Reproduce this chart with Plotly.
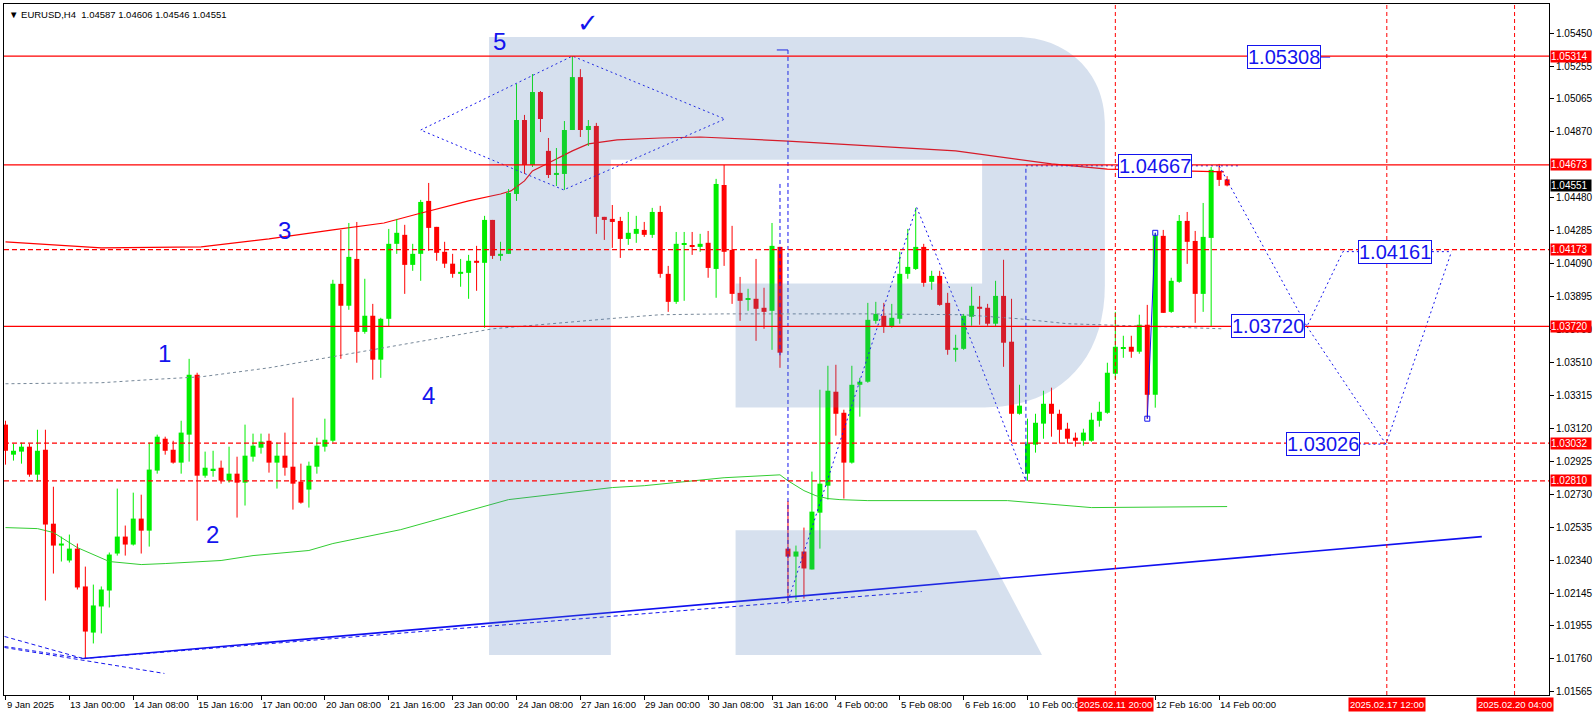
import plotly.graph_objects as go

# ---------------- data ----------------
opens = [1.03141,1.02964,1.02982,1.03011,1.02846,1.02993,1.02557,1.02428,1.02340,1.02410,
         1.02187,1.01915,1.02069,1.02163,1.02381,1.02481,1.02434,1.02587,1.02516,1.02870,
         1.03058,1.02993,1.02917,1.03082,1.03435,1.02840,1.02870,1.02887,1.02811,1.02852,
         1.02799,1.02952,1.03005,1.03046,1.02917,1.02958,1.02893,1.02805,1.02758,1.02893,
         1.03011,1.03046,1.03971,1.03842,1.04118,1.03688,1.03783,1.03524,1.03765,1.04207,
         1.04260,1.04083,1.04148,1.04460,1.04307,1.04160,1.04090,1.04030,1.04036,1.04107,
         1.04095,1.04348,1.04136,1.04148,1.04501,1.04937,1.04672,1.05102,1.04755,1.04613,
         1.04619,1.04878,1.05190,1.04878,1.04902,1.04366,1.04354,1.04342,1.04236,1.04266,
         1.04289,1.04260,1.04395,1.04030,1.03865,1.04201,1.04195,1.04189,1.04213,1.04059,
         1.04554,1.04171,1.03918,1.03877,1.03883,1.03830,1.03812,1.04189,1.02410,1.02363,
         1.02393,1.02287,1.02622,1.02781,1.03335,1.03211,1.02917,1.03376,1.03394,1.03753,
         1.03783,1.03718,1.03765,1.04030,1.04059,1.04189,1.03983,1.04018,1.03859,1.03582,
         1.03588,1.03777,1.03836,1.03830,1.03736,1.03900,1.03630,1.03205,1.02852,1.03023,
         1.03147,1.03264,1.03205,1.03117,1.03064,1.03046,1.03046,1.03164,1.03211,1.03441,
         1.03588,1.03600,1.03571,1.03730,1.03317,1.04254,1.03806,1.03983,1.04342,1.04224,
         1.03912,1.04242,1.04637,1.04587]
highs = [1.03164,1.03029,1.03035,1.03029,1.03111,1.03111,1.02775,1.02481,1.02493,1.02440,
         1.02304,1.02198,1.02187,1.02387,1.02764,1.02546,1.02740,1.02728,1.03035,1.03082,
         1.03070,1.03046,1.03164,1.03529,1.03447,1.02982,1.02987,1.02929,1.03011,1.02952,
         1.03141,1.03088,1.03088,1.03088,1.03035,1.03094,1.03300,1.02911,1.02923,1.03064,
         1.03176,1.03995,1.04289,1.04330,1.04336,1.04001,1.03853,1.03771,1.04295,1.04354,
         1.04319,1.04207,1.04466,1.04566,1.04307,1.04219,1.04148,1.04118,1.04142,1.04195,
         1.04372,1.04348,1.04219,1.04530,1.05149,1.04967,1.05208,1.05108,1.04831,1.04772,
         1.04931,1.05314,1.05237,1.04937,1.04920,1.04366,1.04436,1.04366,1.04395,1.04372,
         1.04336,1.04419,1.04431,1.04077,1.04277,1.04277,1.04277,1.04266,1.04283,1.04590,
         1.04672,1.04313,1.04012,1.03942,1.04118,1.03948,1.04330,1.04189,1.02690,1.02428,
         1.02534,1.02864,1.03347,1.03488,1.03494,1.03229,1.03488,1.03417,1.03859,1.03865,
         1.03859,1.03853,1.04160,1.04295,1.04419,1.04207,1.04048,1.04048,1.03918,1.03671,
         1.03794,1.03954,1.03900,1.03853,1.03989,1.04113,1.03883,1.03376,1.03176,1.03205,
         1.03341,1.03359,1.03229,1.03152,1.03094,1.03117,1.03211,1.03276,1.03506,1.03806,
         1.03665,1.03665,1.03789,1.03847,1.04272,1.04289,1.04007,1.04377,1.04395,1.04283,
         1.04448,1.04660,1.04678,1.04606]
lows = [1.02905,1.02929,1.02911,1.02834,1.02805,1.02104,1.02263,1.02334,1.02328,1.02169,
        1.01762,1.01851,1.01910,1.02063,1.02369,1.02369,1.02428,1.02381,1.02422,1.02852,
        1.02964,1.02911,1.02852,1.02923,1.02575,1.02828,1.02834,1.02793,1.02799,1.02593,
        1.02664,1.02923,1.02970,1.02858,1.02764,1.02840,1.02640,1.02675,1.02652,1.02852,
        1.02982,1.03035,1.03529,1.03818,1.03506,1.03677,1.03406,1.03417,1.03718,1.04148,
        1.03912,1.04048,1.03989,1.04166,1.04107,1.04065,1.04007,1.03954,1.03883,1.03930,
        1.03712,1.04118,1.04107,1.04148,1.04460,1.04619,1.04660,1.04866,1.04595,1.04548,
        1.04525,1.04878,1.04837,1.04784,1.04266,1.04230,1.04183,1.04124,1.04201,1.04213,
        1.04248,1.04242,1.04007,1.03806,1.03853,1.03871,1.04142,1.04160,1.04007,1.03889,
        1.04077,1.03853,1.03753,1.03812,1.03635,1.03706,1.03582,1.03476,1.02100,1.02110,
        1.02116,1.02287,1.02410,1.02699,1.03076,1.02705,1.02911,1.03188,1.03388,1.03736,
        1.03682,1.03712,1.03736,1.04001,1.04053,1.03954,1.03936,1.03842,1.03553,1.03512,
        1.03582,1.03724,1.03730,1.03724,1.03718,1.03482,1.03035,1.03200,1.02810,1.02976,
        1.03058,1.03070,1.03029,1.03029,1.03011,1.03017,1.03040,1.03129,1.03205,1.03412,
        1.03535,1.03535,1.03559,1.03176,1.03241,1.03800,1.03800,1.03977,1.04089,1.03741,
        1.03806,1.03718,1.04548,1.04546]
closes = [1.02987,1.02987,1.03011,1.02846,1.02987,1.02552,1.02428,1.02440,1.02410,1.02181,
          1.01921,1.02075,1.02169,1.02375,1.02481,1.02434,1.02587,1.02516,1.02876,1.03070,
          1.02987,1.02917,1.03094,1.03435,1.02840,1.02887,1.02881,1.02811,1.02852,1.02799,
          1.02958,1.03017,1.03041,1.02917,1.02958,1.02887,1.02793,1.02681,1.02899,1.03017,
          1.03052,1.03971,1.03842,1.04130,1.03688,1.03783,1.03524,1.03765,1.04207,1.04272,
          1.04083,1.04148,1.04454,1.04301,1.04154,1.04090,1.04030,1.04042,1.04107,1.04095,
          1.04348,1.04136,1.04148,1.04507,1.04937,1.04672,1.05102,1.04943,1.04613,1.04625,
          1.04878,1.05190,1.04878,1.04902,1.04366,1.04348,1.04336,1.04236,1.04272,1.04295,
          1.04260,1.04395,1.04030,1.03865,1.04207,1.04207,1.04189,1.04207,1.04065,1.04560,
          1.04160,1.03912,1.03871,1.03883,1.03824,1.03806,1.04195,1.03565,1.02363,1.02393,
          1.02293,1.02628,1.02793,1.03341,1.03205,1.02917,1.03376,1.03394,1.03759,1.03794,
          1.03718,1.03771,1.04030,1.04071,1.04189,1.03977,1.04018,1.03847,1.03582,1.03594,
          1.03783,1.03842,1.03824,1.03736,1.03900,1.03624,1.03205,1.03253,1.03029,1.03152,
          1.03264,1.03205,1.03111,1.03058,1.03046,1.03094,1.03170,1.03217,1.03447,1.03600,
          1.03594,1.03571,1.03730,1.03317,1.04254,1.03800,1.03989,1.04342,1.04219,1.03912,
          1.04248,1.04643,1.04584,1.04551]

# moving averages (bar index, price)
ma_red_x = [0, 12, 24.5, 33, 41, 47.4, 51.6, 58, 62, 63.3, 65, 66, 68, 71, 73, 76.6, 82, 87, 98, 108, 119, 131, 138, 152.6]
ma_red_y = [1.04218, 1.04183, 1.04189, 1.04236, 1.04289, 1.04330, 1.04383, 1.04460, 1.04501, 1.04519, 1.04578,
            1.04637, 1.04684, 1.04755, 1.04796, 1.04820, 1.04831, 1.04837, 1.04813, 1.04784, 1.04755, 1.04678,
            1.04648, 1.04631]
ma_gray_x = [0, 12, 18, 24.5, 33, 41, 52, 61, 77, 82, 90, 108, 120, 127, 133, 140, 151, 152.5]
ma_gray_y = [1.03382, 1.03388, 1.03406, 1.03423, 1.03476, 1.03541, 1.03629, 1.03706, 1.03771, 1.03789,
             1.03794, 1.03794, 1.03789, 1.03765, 1.03736, 1.03724, 1.03706, 1.03706]
ma_green_x = [0, 4, 6, 9, 13, 17, 20, 27, 31, 35, 38, 41, 49.5, 63, 76, 80, 90, 97, 98, 100, 101.5, 103,
              104.5, 108, 125.5, 136, 153]
ma_green_y = [1.02534, 1.02528, 1.02505, 1.02416, 1.02334, 1.02316, 1.02322, 1.02340, 1.02369, 1.02387,
              1.02399, 1.02440, 1.02522, 1.02699, 1.02770, 1.02781, 1.02828, 1.02845, 1.02810, 1.02752,
              1.02722, 1.02705, 1.02699, 1.02693, 1.02693, 1.02652, 1.02658]

# axis labels
x_label_bars = [0, 8, 16, 24, 32, 40, 48, 56, 64, 72, 80, 88, 96, 104, 112, 120, 128, 144, 152]
x_label_text = ["9 Jan 2025", "13 Jan 00:00", "14 Jan 08:00", "15 Jan 16:00", "17 Jan 00:00",
                "20 Jan 08:00", "21 Jan 16:00", "23 Jan 00:00", "24 Jan 08:00", "27 Jan 16:00",
                "29 Jan 00:00", "30 Jan 08:00", "31 Jan 16:00", "4 Feb 00:00", "5 Feb 08:00",
                "6 Feb 16:00", "10 Feb 00:00", "12 Feb 16:00", "14 Feb 00:00"]
y_ticks = [1.05450, 1.05255, 1.05065, 1.04870, 1.04480, 1.04285, 1.04090, 1.03895, 1.03700, 1.03510,
           1.03315, 1.03120, 1.02925, 1.02730, 1.02535, 1.02340, 1.02145, 1.01955, 1.01760, 1.01565]

# levels
solid_levels = [1.05314, 1.04673, 1.03720]
dashed_levels = [1.04173, 1.03032, 1.02810]
current_price = 1.04551
date_line_bars = [139, 173, 189]
date_line_text = ["2025.02.11 20:00", "2025.02.17 12:00", "2025.02.20 04:00"]

# forecast / analysis objects
target_labels = ["1.05308", "1.04667", "1.04161", "1.03720", "1.03026"]
target_values = [1.05308, 1.04667, 1.04161, 1.03720, 1.03026]
target_bars = [160.06, 144.0, 174.06, 158.06, 165.06]
wave_text = ["1", "2", "3", "4", "5"]
wave_bars = [19.9, 25.9, 35.0, 53.0, 61.9]
wave_prices = [1.03559, 1.02493, 1.04283, 1.03311, 1.05397]
forecast_x = [152, 163, 167.5, 181.1]
forecast_y = [1.04667, 1.03720, 1.04161, 1.04161]
forecast2_x = [163, 172.9, 181.1]
forecast2_y = [1.03720, 1.03026, 1.04161]
diamond_x = [52, 71, 90.1, 69.9, 52]
diamond_y = [1.04878, 1.05314, 1.04943, 1.04525, 1.04878]
zigzag_x = [98, 114.1, 121.1, 127.8]
zigzag_y = [1.02100, 1.04424, 1.03618, 1.02810]
trend_x = [9.75, 184.9]
trend_y = [1.01762, 1.02481]

GREEN = "#00ee00"
RED = "#ff0000"
BLUE = "#1414ee"
FONT = "Liberation Sans, Arial, sans-serif"

n = len(opens)
idx = list(range(n))
colors = [GREEN if c >= o else RED for o, c in zip(opens, closes)]
bases = [min(o, c) for o, c in zip(opens, closes)]
heights = [max(abs(c - o), 0.00006) for o, c in zip(opens, closes)]

fig = go.Figure()


def add_line(xs, ys, color, width=1, dash=None, mode="lines", marker=None):
    fig.add_trace(go.Scatter(x=xs, y=ys, mode=mode, hoverinfo="skip",
                             line=dict(color=color, width=width, dash=dash),
                             marker=marker or {}))


# moving averages
add_line(ma_green_x, ma_green_y, "#32cd32", 1)
add_line(ma_gray_x, ma_gray_y, "#778899", 1, "3px,3px")
add_line(ma_red_x, ma_red_y, "#ff0000", 1.2)

# wicks
for col in (GREEN, RED):
    wx, wy = [], []
    for i in idx:
        if colors[i] == col:
            wx += [i, i, None]
            wy += [lows[i], highs[i], None]
    add_line(wx, wy, col, 1)

# bodies
fig.add_trace(go.Bar(x=idx, y=heights, base=bases, width=0.625, marker_color=colors,
                     marker_line_width=0, hoverinfo="skip"))

# blue analysis lines
add_line(trend_x, trend_y, "#1010f0", 1.6)
add_line([trend_x[0], 114.75], [trend_y[0], 1.02157], BLUE, 1, "4px,3px")
add_line([-0.125, 9.75], [1.01892, 1.01762], BLUE, 1, "4px,3px")
add_line([-0.125, 9.75], [1.01833, 1.01762], BLUE, 1, "4px,3px")
add_line([-0.125, 19.9], [1.01827, 1.01674], BLUE, 1, "4px,3px")
add_line(diamond_x, diamond_y, BLUE, 1, "2px,3px")
add_line([97, 97], [1.04560, 1.03550], BLUE, 1, "4px,3px")
add_line([98, 98], [1.05350, 1.02086], BLUE, 1, "4px,3px")
add_line([96.6, 98], [1.05350, 1.05350], BLUE, 1)
add_line(zigzag_x, zigzag_y, BLUE, 1, "2px,3px")
add_line([127.8, 127.8], [1.02810, 1.04667], BLUE, 1, "4px,3px")
add_line([127.8, 154.5], [1.04667, 1.04667], BLUE, 1, "2px,3px")
add_line(forecast_x, forecast_y, BLUE, 1, "2px,3px")
add_line(forecast2_x, forecast2_y, BLUE, 1, "2px,3px")
add_line([165.06, 172.9], [1.03026, 1.03026], BLUE, 1, "2px,3px")
add_line([160.06, 165.9], [1.05308, 1.05308], BLUE, 1)
add_line([143, 144], [lows[143], highs[144]], BLUE, 1, None, "lines+markers",
         dict(symbol="square-open", size=5, color=BLUE))

# watermark "R" logo (decoration, pixel space -> paper)
PL, PT, PW, PH = 3, 3, 1548, 692


def P(px, py):
    return "%.5f,%.5f" % ((px - PL) / PW, 1 - (py - PT) / PH)


logo_outer = ("M " + P(489, 36) + " L " + P(1018, 36) + " C " + P(1066, 36) + " " + P(1106, 70) + " " +
              P(1106, 122) + " L " + P(1106, 285) + " C " + P(1106, 360) + " " + P(1060, 407) + " " +
              P(985, 407) + " L " + P(736, 407) + " L " + P(736, 283) + " L " + P(983, 283) + " L " +
              P(983, 159) + " L " + P(611, 159) + " L " + P(611, 655) + " L " + P(489, 655) + " Z")
logo_leg = ("M " + P(736, 530) + " L " + P(977, 530) + " L " + P(1043, 655) + " L " + P(736, 655) + " Z")
for pth in (logo_outer, logo_leg):
    fig.add_shape(type="path", path=pth, xref="paper", yref="paper", layer="above",
                  fillcolor="rgba(77,122,180,0.23)", line=dict(width=0))

# red levels
for lv in solid_levels:
    fig.add_shape(type="line", xref="paper", yref="y", x0=0, x1=1, y0=lv, y1=lv, layer="above",
                  line=dict(color=RED, width=1.2))
for lv in dashed_levels:
    fig.add_shape(type="line", xref="paper", yref="y", x0=0, x1=1, y0=lv, y1=lv, layer="above",
                  line=dict(color=RED, width=1.2, dash="5px,3px"))
for b in date_line_bars:
    fig.add_shape(type="line", xref="x", yref="paper", x0=b, x1=b, y0=0, y1=1, layer="above",
                  line=dict(color=RED, width=1, dash="4px,3px"))

ann = []
# price labels on right axis
for lv in solid_levels + dashed_levels:
    ann.append(dict(xref="paper", x=1, xanchor="left", xshift=1, yref="y", y=lv, text="%.5f" % lv,
                    showarrow=False, bgcolor=RED, font=dict(color="white", size=10, family=FONT),
                    width=40, height=11, align="left", borderpad=0))
ann.append(dict(xref="paper", x=1, xanchor="left", xshift=1, yref="y", y=current_price,
                text="%.5f" % current_price, showarrow=False, bgcolor="black",
                font=dict(color="white", size=10, family=FONT), width=40, height=11, align="left",
                borderpad=0))
# x labels
for b, t in zip(x_label_bars, x_label_text):
    ann.append(dict(xref="x", x=b, xanchor="left", xshift=-1, yref="paper", y=0, yanchor="top",
                    yshift=-2, text=t, showarrow=False, font=dict(color="black", size=9.5, family=FONT)))
for b, t in zip(date_line_bars, date_line_text):
    ann.append(dict(xref="x", x=b, xanchor="center", yref="paper", y=0, yanchor="top", yshift=-2,
                    text=t, showarrow=False, bgcolor=RED, borderpad=1,
                    font=dict(color="white", size=9.5, family=FONT)))
# target boxes
for b, v, t in zip(target_bars, target_values, target_labels):
    ann.append(dict(xref="x", x=b, yref="y", y=v, text=t, showarrow=False,
                    font=dict(color=BLUE, size=20, family=FONT), bgcolor="white",
                    bordercolor=BLUE, borderwidth=1, borderpad=0))
# wave numbers
for b, v, t in zip(wave_bars, wave_prices, wave_text):
    ann.append(dict(xref="x", x=b, yref="y", y=v, text=t, showarrow=False,
                    font=dict(color=BLUE, size=24, family=FONT)))
ann.append(dict(xref="x", x=72.9, yref="y", y=1.05508, text="\u2713", showarrow=False,
                font=dict(color=BLUE, size=26, family="DejaVu Sans")))
# title
ann.append(dict(xref="paper", x=0, xanchor="left", xshift=3, yref="paper", y=1, yanchor="top",
                yshift=-3, text="\u25BC EURUSD,H4  1.04587 1.04606 1.04546 1.04551", showarrow=False,
                font=dict(color="black", size=9.5, family=FONT)))

fig.update_layout(
    width=1596, height=716,
    margin=dict(l=PL, r=1596 - PL - PW, t=PT, b=716 - PT - PH),
    paper_bgcolor="white", plot_bgcolor="white", showlegend=False,
    annotations=ann,
    xaxis=dict(range=[-0.1875, 193.3125], showgrid=False, zeroline=False, showline=True,
               linecolor="black", linewidth=1, mirror=True, ticks="outside", ticklen=4,
               tickcolor="black", tickvals=x_label_bars, showticklabels=False, fixedrange=True),
    yaxis=dict(range=[1.01547, 1.05621], side="right", showgrid=False, zeroline=False,
               showline=True, linecolor="black", linewidth=1, mirror=True, ticks="outside",
               ticklen=4, tickcolor="black", tickvals=y_ticks,
               ticktext=["%.5f" % v for v in y_ticks],
               tickfont=dict(color="black", size=10, family=FONT), fixedrange=True),
)

fig.write_html("out.html", config={"displayModeBar": False},
               post_script="document.body.style.margin='0';document.body.style.overflow='hidden';")
